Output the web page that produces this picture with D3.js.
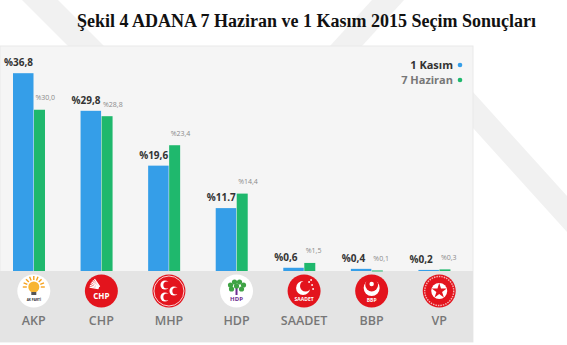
<!doctype html>
<html lang="tr">
<head>
<meta charset="UTF-8">
<title>Adana 2015</title>
<script src="https://cdn.jsdelivr.net/npm/d3@7/dist/d3.min.js"></script>
<style>
  body { margin: 0; background: #fff; }
  svg { display: block; }
</style>
</head>
<body>
<svg width="567" height="345"></svg>
<script>
// veriler
let parties = ["AKP", "CHP", "MHP", "HDP", "SAADET", "BBP", "VP"];
let kasim = [36.8, 29.8, 19.6, 11.7, 0.6, 0.4, 0.2];
let haziran = [30.0, 28.8, 23.4, 14.4, 1.5, 0.1, 0.3];
let kasimLabels = ["%36,8", "%29,8", "%19,6", "%11.7", "%0,6", "%0,4", "%0,2"];
let haziranLabels = ["%30,0", "%28,8", "%23,4", "%14,4", "%1,5", "%0,1", "%0,3"];

let blue = "#359ee8", green = "#1fb86d";
let panel = {left: 0, top: 46, right: 473, bottom: 342};
let baseY = 271;

let svg = d3.select("svg");

// silik filigran
let wm = svg.append("g").attr("fill", "#f1f1f1");
[
  [[22, 0], [58, 0], [104, 46], [68, 46]],
  [[372, 0], [404, 0], [362, 46], [330, 46]],
  [[473, 92], [473, 128], [567, 232], [567, 196]]
].forEach(p => wm.append("polygon").attr("points", p.map(d => d.join(",")).join(" ")));

svg.append("text")
    .attr("x", 77).attr("y", 27)
    .attr("font-family", "'Liberation Serif', 'Times New Roman', serif")
    .attr("font-weight", "bold").attr("font-size", 18)
    .attr("fill", "#111")
    .text("Şekil 4 ADANA 7 Haziran ve 1 Kasım 2015 Seçim Sonuçları");

svg.append("rect")
    .attr("x", panel.left).attr("y", panel.top)
    .attr("width", panel.right - panel.left).attr("height", panel.bottom - panel.top)
    .attr("fill", "#f5f5f5").attr("stroke", "#e9e9e9");
svg.append("rect")
    .attr("x", panel.left).attr("y", baseY)
    .attr("width", panel.right - panel.left).attr("height", panel.bottom - baseY)
    .attr("fill", "#e4e4e4");

let x = d3.scaleBand().domain(parties).range([panel.left, panel.right]);
let y = d3.scaleLinear().domain([0, 40]).range([baseY, 56]);

let g = svg.append("g");
let groups = g.selectAll(".grp").data(parties).enter().append("g")
    .attr("transform", d => "translate(" + x(d) + ",0)");

groups.append("rect")
    .attr("x", 13).attr("width", 20.5)
    .attr("y", (d, i) => y(kasim[i]))
    .attr("height", (d, i) => baseY - y(kasim[i]))
    .attr("fill", blue);
groups.append("rect")
    .attr("x", 34).attr("width", 11)
    .attr("y", (d, i) => y(haziran[i]))
    .attr("height", (d, i) => Math.max(1, baseY - y(haziran[i])))
    .attr("fill", green);

groups.append("text")
    .attr("x", 4)
    .attr("y", (d, i) => y(kasim[i]) - 7)
    .attr("font-family", "'Open Sans', sans-serif")
    .attr("font-weight", "bold").attr("font-size", 10)
    .attr("fill", "#333")
    .text((d, i) => kasimLabels[i]);
groups.append("text")
    .attr("x", 35.5)
    .attr("y", (d, i) => y(haziran[i]) - 9.5)
    .attr("font-family", "'Open Sans', sans-serif")
    .attr("font-size", 7)
    .attr("fill", "#8a8a8a")
    .text((d, i) => haziranLabels[i]);

groups.append("text")
    .attr("x", 33.8).attr("y", 325)
    .attr("text-anchor", "middle")
    .attr("font-family", "'Open Sans', sans-serif")
    .attr("font-weight", 600).attr("font-size", 12.5)
    .attr("fill", "#777")
    .text(d => d);

// logolar
let red = "#e3141d";
let logoY = 291, R = 16.5;
groups.each(function (d) {
    let lg = d3.select(this).append("g").attr("transform", "translate(33.8," + logoY + ")");
    let white = (d === "AKP" || d === "HDP");
    lg.append("circle").attr("r", R).attr("fill", white ? "#fff" : red);
    let tiny = (t, yy, fs, col) => lg.append("text").attr("y", yy).attr("text-anchor", "middle")
        .attr("font-family", "'Open Sans', sans-serif").attr("font-weight", "bold")
        .attr("font-size", fs).attr("fill", col).text(t);
    let crescent = (cx, cy, r, dx, dy, bg) => {
        lg.append("circle").attr("cx", cx).attr("cy", cy).attr("r", r).attr("fill", "#fff");
        lg.append("circle").attr("cx", cx + dx).attr("cy", cy + dy).attr("r", r * 0.8).attr("fill", bg);
    };
    if (d === "AKP") {
        for (let k = 0; k < 9; k++) {
            let a = -Math.PI + k * Math.PI / 8;
            lg.append("line").attr("x1", Math.cos(a) * 7).attr("y1", -4 + Math.sin(a) * 7)
                .attr("x2", Math.cos(a) * 11).attr("y2", -4 + Math.sin(a) * 11)
                .attr("stroke", "#f6a21d").attr("stroke-width", 1.4);
        }
        lg.append("circle").attr("cy", -4).attr("r", 5.5).attr("fill", "#f8b531");
        lg.append("rect").attr("x", -2.5).attr("y", 1).attr("width", 5).attr("height", 3).attr("fill", "#555");
        tiny("AK PARTİ", 10, 3.2, "#333");
    } else if (d === "CHP") {
        for (let k = 0; k < 6; k++) {
            let a = -Math.PI * 0.95 + k * 0.16;
            lg.append("line").attr("x1", Math.cos(a) * 3).attr("y1", -2 + Math.sin(a) * 3)
                .attr("x2", Math.cos(a) * 12).attr("y2", -2 + Math.sin(a) * 12)
                .attr("stroke", "#fff").attr("stroke-width", 1.3);
        }
        tiny("CHP", 8, 8, "#fff");
    } else if (d === "MHP") {
        lg.append("circle").attr("r", R - 1.5).attr("fill", "none").attr("stroke", "#fff").attr("stroke-width", 0.8);
        crescent(-4, -6, 4.5, 2, 0, red);
        crescent(-4, 6, 4.5, 2, 0, red);
        crescent(5, 0, 4.5, 2, 0, red);
    } else if (d === "HDP") {
        lg.append("rect").attr("x", -1).attr("y", -3).attr("width", 2).attr("height", 7).attr("fill", "#6d2d8e");
        [[-6, -6], [-2, -9], [3, -9], [7, -6], [-5, -2], [0, -5], [5, -2]].forEach(p =>
            lg.append("circle").attr("cx", p[0]).attr("cy", p[1]).attr("r", 2.6).attr("fill", "#3fa345"));
        tiny("HDP", 10, 6, "#6d2d8e");
    } else if (d === "SAADET") {
        crescent(-1, -3, 7, 2.5, -2, red);
        [[5, -9], [8, -6], [7, -11], [9, -2]].forEach(p =>
            lg.append("circle").attr("cx", p[0]).attr("cy", p[1]).attr("r", 0.9).attr("fill", "#fff"));
        tiny("SAADET", 10, 5, "#fff");
    } else if (d === "BBP") {
        crescent(0, -3, 8, 0, -3, red);
        lg.append("circle").attr("cx", 0).attr("cy", -7).attr("r", 2.2).attr("fill", "#fff");
        tiny("BBP", 11, 5, "#fff");
    } else if (d === "VP") {
        lg.append("circle").attr("r", R - 2).attr("fill", "none").attr("stroke", "#f5b5b5")
            .attr("stroke-width", 1.4).attr("stroke-dasharray", "1.5,1");
        lg.append("circle").attr("r", 8).attr("fill", "#fff");
        lg.append("path").attr("d", d3.symbol(d3.symbolStar, 70)()).attr("fill", red);
    }
});

// lejant
let legend = [["1 Kasım", blue, "#333"], ["7 Haziran", green, "#777"]];
legend.forEach((l, i) => {
    svg.append("text")
        .attr("x", 453).attr("y", 69 + i * 15)
        .attr("text-anchor", "end")
        .attr("font-family", "'Open Sans', sans-serif")
        .attr("font-weight", "bold").attr("font-size", 11)
        .attr("fill", l[2]).text(l[0]);
    svg.append("circle").attr("cx", 460).attr("cy", 65 + i * 15).attr("r", 2.3).attr("fill", l[1]);
});
</script>
</body>
</html>
